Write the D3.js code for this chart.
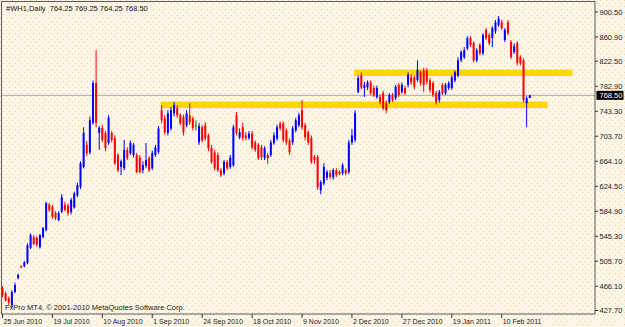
<!DOCTYPE html>
<html>
<head>
<meta charset="utf-8">
<script src="https://cdn.jsdelivr.net/npm/d3@7"></script>
<style>
  html, body { margin: 0; padding: 0; background: #fdf6e6; }
  svg { display: block; font-family: "Liberation Sans", Arial, sans-serif; }
</style>
</head>
<body>
<div id="chart"></div>
<script>
const title = "#WH1,Daily  764.25 769.25 764.25 768.50";
const copyright = "FxPro MT4, \u00a9 2001-2010 MetaQuotes Software Corp.";

// daily bars, 25 Jun 2010 .. 23 Feb 2011
const opens = [
  463,455,447,436,457,479,498,498,503,527, 544,543,528,544,555,595,592,582,571,584,
  595,594,584,591,610,623,655,690,678,725, 788,709,717,709,693,709,701,674,655,653,
  682,677,674,674,670,650,657,669,653,674, 679,745,732,709,716,740,748,737,734,721,
  737,732,721,694,718,721,705,685,678,674, 650,645,663,655,658,737,702,718,705,701,
  708,694,690,686,669,674,674,693,700,724, 724,713,697,694,713,721,745,721,710,701,
  671,671,618,629,638,645,639,650,647,645, 650,647,694,698,774,800,780,781,789,780,
  766,766,772,756,758,769,764,785,774,780, 785,797,797,793,805,808,808,792,788,772,
  761,785,772,780,780,792,800,824,829,843, 859,851,824,848,835,872,864,859,870,880,
  884,856,884,853,837,851,829,824,756,764.25
];
const highs = [
  466,458,450,460,472,486,499,506,534,550, 547,545,549,560,600,598,595,585,585,612,
  600,597,606,616,630,664,718,696,735,792, 840,720,722,712,737,712,705,677,667,698,
  686,697,693,677,674,664,693,672,681,690, 720,753,737,745,750,758,753,740,738,745,
  756,735,729,725,721,726,708,690,682,678, 653,666,666,674,722,742,716,725,710,712,
  712,697,693,690,688,677,698,710,722,727, 727,716,700,720,733,741,761,725,713,705,
  674,674,634,661,650,650,653,653,650,661, 653,698,715,745,800,805,790,792,792,784,
  784,770,776,760,772,772,785,788,789,784, 805,802,800,824,808,812,812,796,791,776,
  777,788,788,791,800,808,829,840,845,862, 862,854,843,851,867,875,867,878,888,894,
  888,875,888,856,851,854,832,827,767,769.25
];
const lows = [
  449,442,436,432,455,477,495,496,501,525, 531,529,526,542,553,584,573,571,569,582,
  585,578,580,589,607,620,653,672,675,722, 718,682,694,680,690,694,658,647,642,650,
  666,674,670,645,645,645,653,647,650,671, 676,724,706,705,713,735,733,721,705,718,
  722,713,713,690,694,697,680,660,650,647, 639,642,650,652,655,705,699,697,697,698,
  683,679,666,666,666,660,671,690,697,713, 694,690,674,690,710,718,714,697,690,660,
  660,619,612,626,634,636,635,639,642,642, 642,644,690,694,772,778,766,777,769,766,
  763,754,745,740,755,758,761,766,771,769, 781,785,778,790,784,774,786,773,766,754,
  757,769,769,777,777,789,797,821,826,840, 845,821,821,832,832,856,848,845,866,877,
  872,853,864,826,834,816,816,757,718,764.25
];
const closes = [
  452,444,440,457,468,484,496,504,531,547, 533,532,547,558,598,587,576,574,582,607,
  587,582,603,613,626,661,709,677,729,788, 725,717,698,685,733,698,661,650,664,682,
  669,693,690,647,647,658,666,650,677,686, 716,729,710,740,745,753,737,724,710,740,
  726,717,721,720,697,701,685,663,653,650, 642,663,653,670,718,709,710,701,701,708,
  686,682,669,671,685,669,694,705,718,716, 698,694,678,716,729,737,718,702,694,663,
  666,623,631,655,647,639,650,642,644,658, 645,694,705,740,796,781,785,789,772,769,
  780,758,748,745,769,761,782,769,785,772, 801,789,782,809,788,785,790,777,769,758,
  774,772,785,788,797,805,824,837,840,859, 848,824,840,835,864,859,851,875,884,890,
  875,872,867,829,846,820,819,761,764,768.5
];

// time axis: one label every 16 bars
const dateTicks = ["25 Jun 2010","19 Jul 2010","10 Aug 2010","1 Sep 2010","24 Sep 2010",
  "18 Oct 2010","9 Nov 2010","2 Dec 2010","27 Dec 2010","19 Jan 2011","10 Feb 2011"];
const barsPerTick = 16;
const priceTicks = ["900.50","860.90","822.50","782.90","743.30","703.70","664.10",
  "624.50","584.90","545.30","505.70","466.10","427.70"];
const lastPrice = 768.5;

// the two yellow rectangles (price band, bar range)
const bandTop = [809.4, 758.7];
const bandBottom = [799.1, 748.4];
const bandFrom = [113, 51];
const bandTo = [183, 175];

const width = 625, height = 327;
const plot = { left: 2, right: 595, top: 2, bottom: 314 };
const step = 3.12;

const bars = opens.map((o, i) => ({ i: i, o: o, h: highs[i], l: lows[i], c: closes[i] }));

const svg = d3.select("#chart").append("svg")
  .attr("width", width)
  .attr("height", height);

const defs = svg.append("defs");
const pat = defs.append("pattern")
  .attr("id", "dots")
  .attr("width", 6).attr("height", 6)
  .attr("patternUnits", "userSpaceOnUse");
pat.append("rect").attr("width", 6).attr("height", 6).attr("fill", "#fdf6e6");
pat.append("rect").attr("x", 0).attr("y", 0).attr("width", 1).attr("height", 1).attr("fill", "#f2d3ac");
pat.append("rect").attr("x", 3).attr("y", 3).attr("width", 1).attr("height", 1).attr("fill", "#f2d3ac");

defs.append("clipPath").attr("id", "plotclip")
  .append("rect")
  .attr("x", plot.left).attr("y", plot.top)
  .attr("width", plot.right - plot.left).attr("height", plot.bottom - plot.top);

svg.append("rect")
  .attr("width", width).attr("height", height)
  .attr("fill", "url(#dots)");

const x = d3.scaleLinear()
  .domain([0, (plot.right - plot.left - 0.5) / step])
  .range([plot.left + 0.5, plot.right]);

const y = d3.scaleLinear()
  .domain([427.7, 900.5])
  .range([310.5, 12]);

const g = svg.append("g").attr("clip-path", "url(#plotclip)");

// support / resistance rectangles sit behind the candles
g.selectAll(".band")
  .data(bandTop)
  .enter().append("rect")
  .attr("class", "band")
  .attr("x", (d, k) => x(bandFrom[k]) - 1)
  .attr("y", d => y(d))
  .attr("width", (d, k) => x(bandTo[k]) - x(bandFrom[k]))
  .attr("height", (d, k) => y(bandBottom[k]) - y(d))
  .attr("fill", "#ffd700");

g.append("line")
  .attr("x1", plot.left).attr("x2", plot.right)
  .attr("y1", y(lastPrice)).attr("y2", y(lastPrice))
  .attr("stroke", "#a3a8bf")
  .attr("stroke-width", 1);

function colour(d) {
  if (d.c > d.o) return "#0000ff";
  if (d.c < d.o) return "#ff0000";
  return "#008000";
}

const candle = g.selectAll(".candle")
  .data(bars)
  .enter().append("g")
  .attr("class", "candle");

candle.append("line")
  .attr("x1", d => x(d.i)).attr("x2", d => x(d.i))
  .attr("y1", d => y(d.h)).attr("y2", d => y(d.l))
  .attr("stroke", colour)
  .attr("stroke-width", 1);

candle.append("rect")
  .attr("x", d => x(d.i) - 1)
  .attr("y", d => y(Math.max(d.o, d.c)))
  .attr("width", 2)
  .attr("height", d => Math.max(1, Math.abs(y(d.o) - y(d.c))))
  .attr("fill", colour);

// frame
svg.append("rect")
  .attr("x", plot.left - 0.5).attr("y", plot.top - 0.5)
  .attr("width", plot.right - plot.left + 0.5).attr("height", plot.bottom - plot.top + 0.5)
  .attr("fill", "none")
  .attr("stroke", "#5a5a5a");

// price scale
const yt = svg.append("g");
priceTicks.forEach(t => {
  const py = y(+t);
  yt.append("line")
    .attr("x1", plot.right).attr("x2", plot.right + 3)
    .attr("y1", py).attr("y2", py)
    .attr("stroke", "#333");
  yt.append("text")
    .attr("x", plot.right + 4.5).attr("y", py + 2.7)
    .attr("font-size", "7.5px")
    .attr("fill", "#222")
    .text(t);
});

svg.append("rect")
  .attr("x", plot.right + 1.5).attr("y", y(lastPrice) - 4.5)
  .attr("width", 27).attr("height", 9)
  .attr("fill", "#000");
svg.append("text")
  .attr("x", plot.right + 4.5).attr("y", y(lastPrice) + 2.7)
  .attr("font-size", "7.5px")
  .attr("fill", "#fff")
  .text(lastPrice.toFixed(2));

// time scale
const xt = svg.append("g");
dateTicks.forEach((t, k) => {
  const px = x(k * barsPerTick);
  xt.append("line")
    .attr("x1", px).attr("x2", px)
    .attr("y1", plot.bottom).attr("y2", plot.bottom + 4)
    .attr("stroke", "#333");
  xt.append("text")
    .attr("x", px + 1).attr("y", 324)
    .attr("font-size", "7px")
    .attr("fill", "#222")
    .text(t);
});

svg.append("text")
  .attr("x", 6).attr("y", 10.5)
  .attr("font-size", "7.5px")
  .attr("fill", "#111")
  .attr("xml:space", "preserve")
  .style("white-space", "pre")
  .text(title);

svg.append("text")
  .attr("x", 5).attr("y", 310)
  .attr("font-size", "7.5px")
  .attr("fill", "#222")
  .text(copyright);
</script>
</body>
</html>
